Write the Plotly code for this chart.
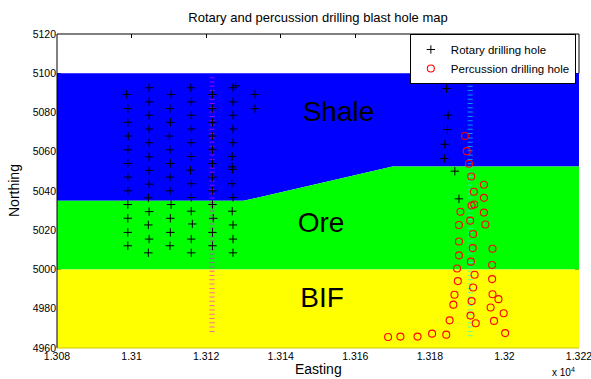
import plotly.graph_objects as go

# ---------------- data ----------------
# Rotary drilling holes (Easting, Northing)
rotary_e = [
    # column 1
    13098.7, 13099.0, 13099.0, 13099.1, 13099.0, 13099.0, 13099.0, 13099.0, 13099.0, 13099.0, 13099.0, 13099.0,
    # column 2
    13104.7, 13104.7, 13104.7, 13104.7, 13104.7, 13104.7, 13104.7, 13104.7, 13104.5, 13104.7, 13104.5, 13104.7, 13104.5,
    # column 3
    13110.6, 13110.3, 13110.4, 13110.1, 13110.3, 13110.4, 13110.3, 13110.3, 13110.6, 13110.4, 13110.4, 13110.3,
    # column 4
    13115.9, 13116.0, 13116.0, 13116.0, 13116.0, 13116.0, 13115.8, 13116.0, 13116.0, 13116.0, 13116.3, 13116.0, 13116.0,
    # column 5
    13121.7, 13121.7, 13121.7, 13121.7, 13121.7, 13121.7, 13121.7, 13121.7, 13121.7, 13121.9, 13121.7, 13121.7,
    # column 6
    13127.2, 13127.9, 13127.2, 13127.2, 13127.2, 13127.2, 13127.0, 13127.0, 13127.1, 13126.9, 13127.2, 13127.0,
    13127.2, 13127.2, 13127.2,
    # column 7
    13133.1, 13133.1,
    # eastern holes
    13184.5, 13184.9, 13184.7, 13184.0, 13183.9, 13186.7, 13187.8,
]
rotary_n = [
    5089.2, 5082.0, 5075.0, 5068.0, 5061.0, 5054.0, 5047.1, 5040.1, 5033.1, 5026.1, 5018.9, 5012.1,
    5092.6, 5085.4, 5078.6, 5071.6, 5064.6, 5057.4, 5050.5, 5043.5, 5036.5, 5029.5, 5022.7, 5015.5, 5008.5,
    5089.2, 5082.0, 5075.0, 5068.0, 5061.0, 5054.0, 5047.1, 5040.1, 5033.1, 5026.1, 5018.9, 5012.1,
    5092.6, 5085.4, 5078.6, 5071.6, 5064.6, 5057.6, 5050.6, 5043.7, 5036.7, 5029.7, 5023.2, 5015.5, 5008.5,
    5089.2, 5082.0, 5075.0, 5068.0, 5061.0, 5054.0, 5047.1, 5040.1, 5033.1, 5026.1, 5018.9, 5012.1,
    5092.6, 5093.6, 5085.4, 5078.6, 5071.6, 5064.6, 5057.6, 5052.3, 5051.0, 5043.7, 5036.7, 5029.7,
    5022.7, 5015.5, 5008.5,
    5089.2, 5082.0,
    5092.2, 5078.6, 5071.3, 5063.8, 5056.6, 5050.1, 5036.0,
]

# Percussion drilling holes (Easting, Northing)
perc_e = [
    13189.4, 13189.9, 13190.5, 13191.1, 13194.5, 13191.8, 13194.5, 13191.2, 13191.9, 13188.2,
    13194.5, 13187.8, 13190.8, 13194.9, 13191.6, 13187.8, 13191.5, 13196.8, 13187.8, 13191.0,
    13196.7, 13187.3, 13192.0, 13196.7, 13187.5, 13191.6, 13196.8, 13186.6, 13198.4, 13186.3,
    13191.2, 13196.3, 13199.8, 13190.9, 13185.3, 13197.2, 13192.3, 13200.2, 13184.4, 13180.6,
    13176.7, 13172.1, 13168.8,
]
perc_n = [
    5068.0, 5060.3, 5053.9, 5047.4, 5043.2, 5039.6, 5036.5, 5032.6, 5033.1, 5029.4,
    5029.0, 5022.7, 5024.9, 5022.9, 5018.1, 5014.3, 5010.9, 5010.6, 5007.2, 5004.0,
    5002.3, 5000.5, 4997.3, 4995.1, 4994.1, 4990.8, 4987.4, 4987.1, 4984.9, 4982.1,
    4983.9, 4980.6, 4977.7, 4976.5, 4974.1, 4973.8, 4972.6, 4967.6, 4966.8, 4967.3,
    4965.8, 4965.8, 4965.6,
]

# Survey traces (vertical dashed lines)
trace_rot_e = [13121.6, 13121.6]
trace_rot_n = [5098.0, 4967.0]
trace_perc_e = [13190.8, 13190.8]
trace_perc_n = [5098.0, 4964.5]

# Geological layers
x_min, x_max = 13080, 13220
y_min, y_max = 4960, 5120
shale_top = 5100
ore_top_e = [13080, 13130, 13170, 13220]
ore_top_n = [5035, 5035, 5052.5, 5052.5]
bif_top = 5000

layer_names = ["Shale", "Ore", "BIF"]
layer_label_e = [13155.5, 13150.8, 13151.1]
layer_label_n = [5079.0, 5022.9, 4984.5]

x_tickvals = [13080, 13100, 13120, 13140, 13160, 13180, 13200, 13220]
x_ticktext = ["1.308", "1.31", "1.312", "1.314", "1.316", "1.318", "1.32", "1.322"]
y_tickvals = [4960, 4980, 5000, 5020, 5040, 5060, 5080, 5100, 5120]

FONT = "Liberation Sans, Arial, Helvetica, sans-serif"

fig = go.Figure()

# Shale (blue): from ore top boundary up to shale_top
fig.add_trace(go.Scatter(
    x=[x_min] + ore_top_e + [x_max, x_min],
    y=[shale_top] + ore_top_n + [shale_top, shale_top],
    fill="toself", fillcolor="#0000ff", mode="none",
    showlegend=False, hoverinfo="skip"))
# Ore (green)
fig.add_trace(go.Scatter(
    x=ore_top_e + [x_max, x_min, x_min],
    y=ore_top_n + [bif_top, bif_top, ore_top_n[0]],
    fill="toself", fillcolor="#00ff00", mode="none",
    showlegend=False, hoverinfo="skip"))
# BIF (yellow)
fig.add_trace(go.Scatter(
    x=[x_min, x_max, x_max, x_min, x_min],
    y=[bif_top, bif_top, y_min, y_min, bif_top],
    fill="toself", fillcolor="#ffff00", mode="none",
    showlegend=False, hoverinfo="skip"))

# layer labels
fig.add_trace(go.Scatter(
    x=layer_label_e, y=layer_label_n, text=layer_names, mode="text",
    textfont=dict(family=FONT, size=28, color="black"),
    showlegend=False, hoverinfo="skip"))

# dashed survey traces (horizontal tick style)
fig.add_trace(go.Scatter(
    x=trace_rot_e, y=trace_rot_n, mode="lines",
    line=dict(color="rgba(255,0,255,0.6)", width=5, dash="1px,3.3px"),
    showlegend=False, hoverinfo="skip"))
fig.add_trace(go.Scatter(
    x=trace_perc_e, y=trace_perc_n, mode="lines",
    line=dict(color="rgba(0,255,255,0.6)", width=5, dash="1px,3.3px"),
    showlegend=False, hoverinfo="skip"))

fig.add_trace(go.Scatter(
    x=rotary_e, y=rotary_n, mode="markers", name="Rotary drilling hole",
    marker=dict(symbol="cross-thin-open", size=6, color="black",
                line=dict(color="black", width=1))))
fig.add_trace(go.Scatter(
    x=perc_e, y=perc_n, mode="markers", name="Percussion drilling hole",
    marker=dict(symbol="circle-open", size=7, color="red",
                line=dict(color="red", width=1.1))))

shale_frac = (shale_top - y_min) / (y_max - y_min)
frame = [
    dict(type="line", xref="x domain", yref="y domain", x0=0, x1=0, y0=0, y1=1,
         line=dict(color="black", width=1)),
    dict(type="line", xref="x domain", yref="y domain", x0=0, x1=1, y0=1, y1=1,
         line=dict(color="black", width=1)),
    dict(type="line", xref="x domain", yref="y domain", x0=1, x1=1, y0=shale_frac, y1=1,
         line=dict(color="black", width=1)),
    dict(type="line", xref="x domain", yref="y domain", x0=0, x1=1, y0=0, y1=0,
         line=dict(color="#c8c800", width=1)),
]

fig.update_layout(
    width=591, height=379,
    margin=dict(l=57, r=12, t=34, b=31, autoexpand=False),
    paper_bgcolor="white", plot_bgcolor="white",
    font=dict(family=FONT, color="black", size=11),
    title=dict(text="Rotary and percussion drilling blast hole map",
               x=0.5, xref="paper", xanchor="center",
               y=1 - 17 / 379, yref="container", yanchor="middle",
               font=dict(family=FONT, size=13, color="black")),
    shapes=frame,
    legend=dict(x=0.994, y=1, xanchor="right", yanchor="top",
                bgcolor="white", bordercolor="black", borderwidth=1,
                font=dict(family=FONT, size=11.5, color="black"),
                tracegroupgap=0, itemwidth=30),
    annotations=[
        dict(text="Easting", xref="paper", yref="paper", x=0.5, y=-0.068,
             xanchor="center", yanchor="middle", showarrow=False,
             font=dict(family=FONT, size=14, color="black")),
        dict(text="Northing", xref="paper", yref="paper", x=-0.0, y=0.5,
             xshift=-43, xanchor="center", yanchor="middle", textangle=-90,
             showarrow=False, font=dict(family=FONT, size=14, color="black")),
        dict(text="x 10<sup>4</sup>", xref="paper", yref="paper", x=0.996, y=-0.0775,
             xanchor="right", yanchor="middle", showarrow=False,
             font=dict(family=FONT, size=10, color="black")),
    ],
)
fig.update_xaxes(range=[x_min, x_max], tickvals=x_tickvals, ticktext=x_ticktext,
                 ticks="inside", ticklen=4, tickcolor="black", mirror="ticks",
                 showgrid=False, zeroline=False, showline=False, automargin=False,
                 ticklabeloverflow="allow",
                 layer="below traces", tickfont=dict(size=10.5, color="black"))
fig.update_yaxes(range=[y_min, y_max], tickvals=y_tickvals,
                 ticks="inside", ticklen=4, tickcolor="black", mirror="ticks",
                 showgrid=False, zeroline=False, showline=False, automargin=False,
                 layer="below traces", tickfont=dict(size=10.5, color="black"))

fig.write_html("out.html", config={"displayModeBar": False},
               post_script="document.body.style.margin='0';document.body.style.padding='0';"
                           "document.body.style.overflow='hidden';")
